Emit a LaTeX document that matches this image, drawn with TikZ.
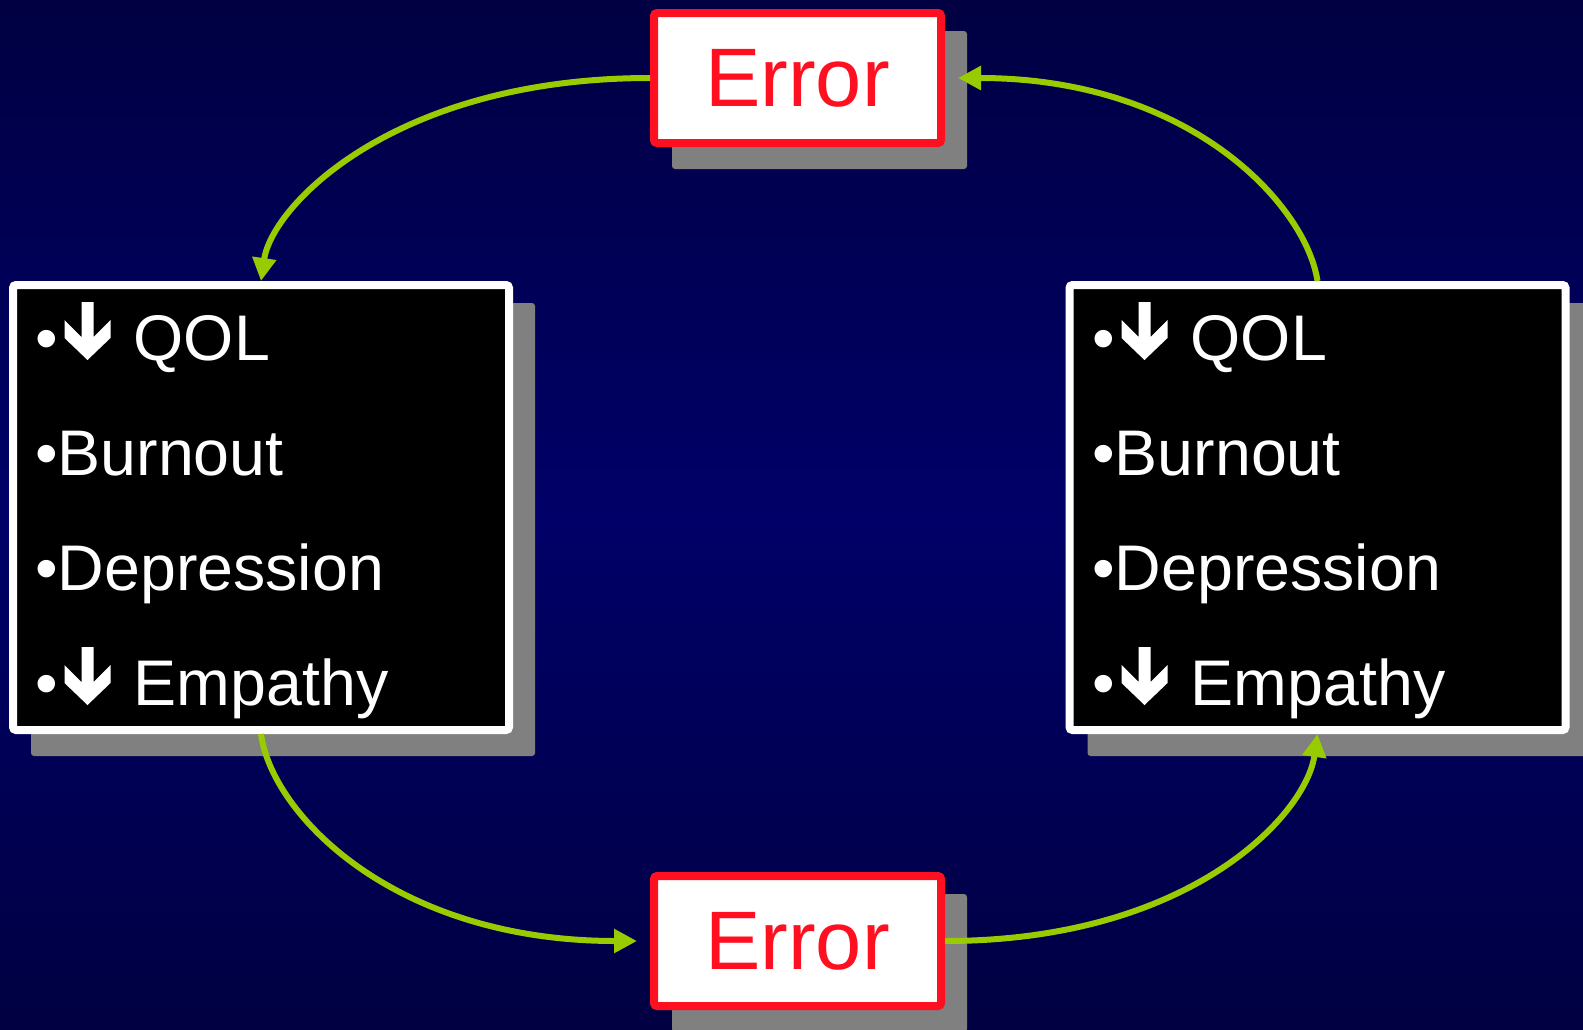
\documentclass[tikz,border=0pt]{standalone}
\usepackage{fontspec}
\setmainfont{Liberation Sans}
\usetikzlibrary{arrows.meta,calc,backgrounds}
\definecolor{bgdark}{RGB}{0,0,66}
\definecolor{bgmid}{RGB}{0,0,104}
\definecolor{errred}{RGB}{255,16,32}
\definecolor{lime}{RGB}{153,204,0}
\definecolor{shadowgray}{RGB}{128,128,128}
\begin{document}
\begin{tikzpicture}[x=1pt,y=-1pt,
  listbox/.style={draw=white, fill=black, line width=8pt, rounded corners=3pt, minimum width=496pt, minimum height=445pt, inner sep=0pt},
  errbox/.style={draw=errred, fill=white, line width=8pt, rounded corners=3pt, minimum width=287pt, minimum height=130pt, inner sep=0pt, text=errred, font=\fontsize{83pt}{90pt}\selectfont},
  item/.style={anchor=base west, text=white, inner sep=0pt, font=\fontsize{64.5pt}{70pt}\selectfont},
  shadowfill/.style={fill=shadowgray, rounded corners=3pt},
  link/.style={draw=lime, line width=6pt, -{Triangle[length=23pt,width=23pt]}},
  dnarrow/.pic={\fill[white] (0,0) -- (23,-22) -- (23,-40) -- (6,-23) -- (6,-58) -- (-6,-58) -- (-6,-23) -- (-23,-40) -- (-23,-22) -- cycle;}
]
\useasboundingbox (0,0) rectangle (1583,1029);

% boxes
\node[listbox] (L) at (261,507.5) {};
\node[listbox] (R) at (1317.5,507.5) {};
\node[errbox] (T) at (797.5,78) {Error};
\node[errbox] (B) at (797.5,941) {Error};

\begin{scope}[on background layer]
  \shade[top color=bgdark, bottom color=bgdark, middle color=bgmid] (0,0) rectangle (1583,1029);
  \foreach \n in {L,R,T,B}{
    \fill[shadowfill] ($(\n.north west)+(22,22)$) rectangle ($(\n.south east)+(22,22)$);
  }
\end{scope}

% left list
\node[item] (l1) at (35,360) {•\hspace{76pt}QOL};
\node[item] (l2) at (35,475) {•Burnout};
\node[item] (l3) at (35,590) {•Depression};
\node[item] (l4) at (35,705) {•\hspace{76pt}Empathy};
\pic at (87.5,360) {dnarrow};
\pic at (87.5,705) {dnarrow};

% right list
\node[item] (r1) at (1092,360) {•\hspace{76pt}QOL};
\node[item] (r2) at (1092,475) {•Burnout};
\node[item] (r3) at (1092,590) {•Depression};
\node[item] (r4) at (1092,705) {•\hspace{76pt}Empathy};
\pic at (1144.5,360) {dnarrow};
\pic at (1144.5,705) {dnarrow};

% connectors
\draw[link] (T.west) .. controls (395,78) and (272,205) .. (L.north);
\draw[link, shorten >=13pt] (L.south) .. controls (272,815) and (395,941) .. (B.west);
\draw[link] (B.east) .. controls (1190,941) and (1306,815) .. (R.south);
\draw[link, shorten >=13pt] (R.north) .. controls (1306,205) and (1190,78) .. (T.east);
\end{tikzpicture}
\end{document}
